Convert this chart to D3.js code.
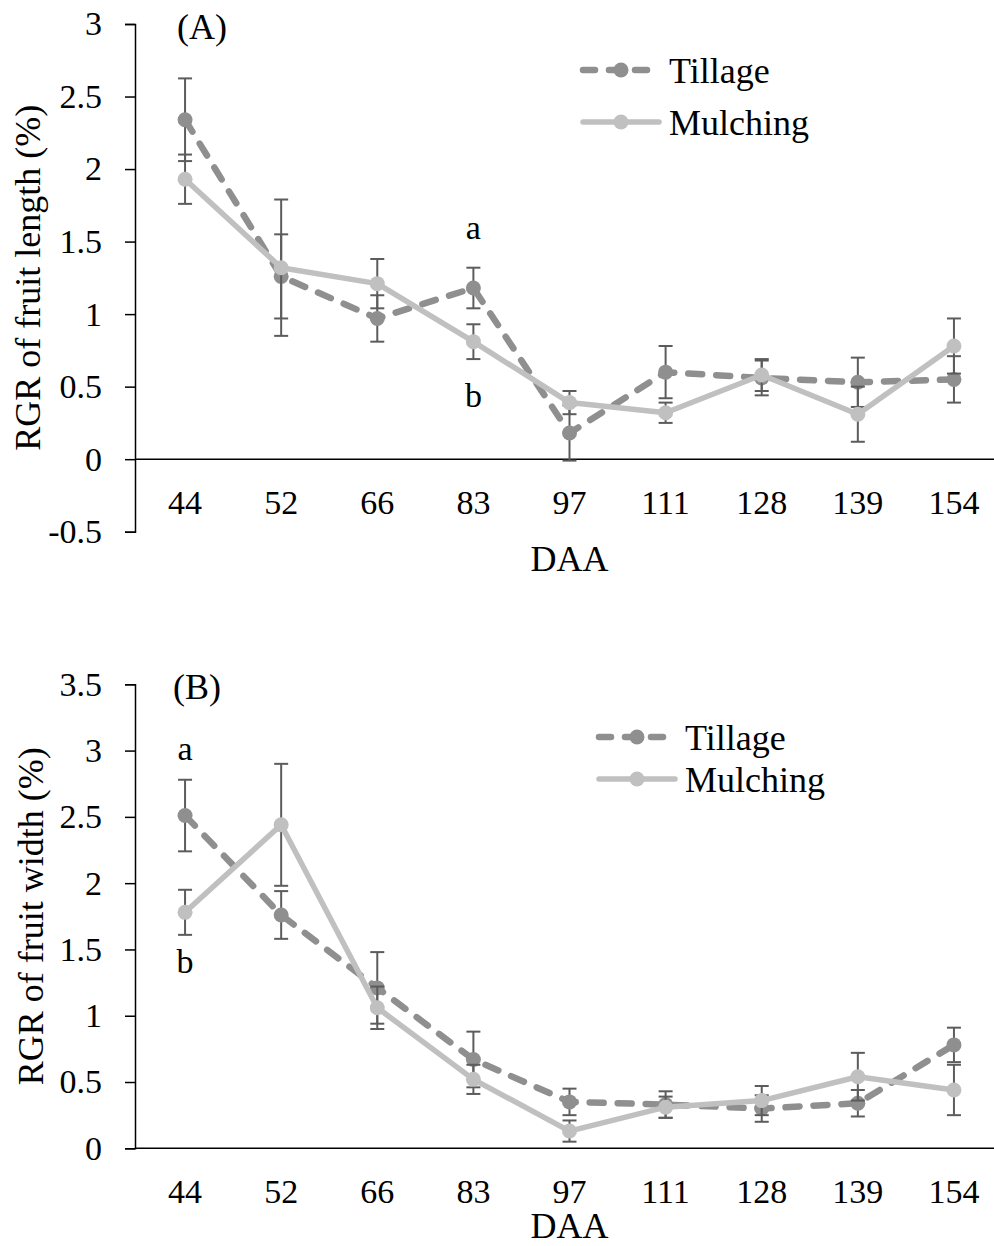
<!DOCTYPE html>
<html>
<head>
<meta charset="utf-8">
<script src="https://cdn.jsdelivr.net/npm/d3@7"></script>
<style>
  body { margin: 0; background: #fff; }
  svg text { font-family: "Liberation Serif", "Times New Roman", serif; fill: #000; }
</style>
</head>
<body>
<div id="chart"></div>
<script>
// days after anthesis
const days = ["44", "52", "66", "83", "97", "111", "128", "139", "154"];

// (A) RGR of fruit length
const tillageLength = [2.34, 1.26, 0.97, 1.18, 0.18, 0.60, 0.56, 0.53, 0.55];
const tillageLengthErr = [0.285, 0.29, 0.16, 0.14, 0.19, 0.18, 0.12, 0.17, 0.16];
const mulchingLength = [1.93, 1.32, 1.21, 0.81, 0.39, 0.32, 0.58, 0.31, 0.78];
const mulchingLengthErr = [0.17, 0.47, 0.17, 0.12, 0.08, 0.07, 0.11, 0.19, 0.19];
const lengthTicks = [-0.5, 0, 0.5, 1, 1.5, 2, 2.5, 3];

// (B) RGR of fruit width
const tillageWidth = [2.51, 1.76, 1.21, 0.67, 0.35, 0.33, 0.30, 0.34, 0.78];
const tillageWidthErr = [0.27, 0.18, 0.27, 0.21, 0.10, 0.10, 0.10, 0.10, 0.13];
const mulchingWidth = [1.78, 2.44, 1.06, 0.52, 0.13, 0.31, 0.36, 0.54, 0.44];
const mulchingWidthErr = [0.17, 0.46, 0.16, 0.11, 0.08, 0.08, 0.11, 0.18, 0.19];
const widthTicks = [0, 0.5, 1, 1.5, 2, 2.5, 3, 3.5];

const seriesNames = ["Tillage", "Mulching"];

const W = 994, H = 1246;
const axisX = 135;
const serif = "'Liberation Serif', 'Times New Roman', serif";
const tillageColor = "#8f8f8f";
const mulchingColor = "#c0c0c0";
const errColor = "#5c5c5c";

const svg = d3.select("#chart").append("svg")
  .attr("width", W)
  .attr("height", H)
  .attr("font-family", serif);

const x = d3.scalePoint()
  .domain(days)
  .range([137, 1002])
  .padding(0.5);

function drawPanel(opt) {
  const g = svg.append("g");

  const y = d3.scaleLinear()
    .domain([opt.ticks[0], opt.ticks[opt.ticks.length - 1]])
    .range([opt.bottom, opt.top]);

  // y axis
  const yAxis = g.append("g")
    .attr("transform", "translate(" + axisX + ",0)")
    .call(d3.axisLeft(y).tickValues(opt.ticks).tickSize(10).tickPadding(23)
      .tickFormat(d => String(d)));
  yAxis.attr("font-family", serif).attr("font-size", 34);
  yAxis.select(".domain").attr("stroke", "#000").attr("stroke-width", 1.5);
  yAxis.selectAll(".tick line").attr("stroke", "#000").attr("stroke-width", 1.5);
  yAxis.selectAll("text").attr("font-size", 34).attr("font-family", serif);

  // x axis line at zero
  g.append("line")
    .attr("x1", axisX).attr("x2", W)
    .attr("y1", y(0)).attr("y2", y(0))
    .attr("stroke", "#000").attr("stroke-width", 1.5);

  // x tick labels
  g.append("g").selectAll("text")
    .data(days)
    .enter()
    .append("text")
    .attr("x", d => x(d))
    .attr("y", y(0) + 55)
    .attr("text-anchor", "middle")
    .attr("font-family", serif)
    .attr("font-size", 34)
    .text(d => d);

  // x title
  g.append("text")
    .attr("x", x("97"))
    .attr("y", opt.daaY)
    .attr("text-anchor", "middle")
    .attr("font-family", serif)
    .attr("font-size", 36)
    .text("DAA");

  // y title
  g.append("text")
    .attr("transform", "translate(" + opt.titleX + "," + ((opt.top + opt.bottom) / 2) + ") rotate(-90)")
    .attr("text-anchor", "middle")
    .attr("font-family", serif)
    .attr("font-size", 36)
    .text(opt.yTitle);

  // panel label
  g.append("text")
    .attr("x", opt.labelX)
    .attr("y", opt.labelY)
    .attr("text-anchor", "middle")
    .attr("font-family", serif)
    .attr("font-size", 36)
    .text(opt.label);

  const series = [
    { vals: opt.tillage, err: opt.tillageErr, color: tillageColor, dash: "14,14", width: 6.5 },
    { vals: opt.mulching, err: opt.mulchingErr, color: mulchingColor, dash: null, width: 5.5 }
  ];

  series.forEach(s => {
    const pts = days.map((d, i) => ({ d: d, v: s.vals[i], e: s.err[i] }));

    const eb = g.append("g");
    eb.selectAll("line.bar")
      .data(pts).enter().append("line")
      .attr("x1", p => x(p.d)).attr("x2", p => x(p.d))
      .attr("y1", p => y(p.v - p.e)).attr("y2", p => y(p.v + p.e))
      .attr("stroke", errColor).attr("stroke-width", 2);
    [-1, 1].forEach(sign => {
      eb.selectAll(null)
        .data(pts).enter().append("line")
        .attr("x1", p => x(p.d) - 7).attr("x2", p => x(p.d) + 7)
        .attr("y1", p => y(p.v + sign * p.e)).attr("y2", p => y(p.v + sign * p.e))
        .attr("stroke", errColor).attr("stroke-width", 2);
    });

    g.append("path")
      .datum(pts)
      .attr("fill", "none")
      .attr("stroke", s.color)
      .attr("stroke-width", s.width)
      .attr("stroke-linecap", "round")
      .attr("stroke-linejoin", "round")
      .attr("stroke-dasharray", s.dash)
      .attr("d", d3.line().x(p => x(p.d)).y(p => y(p.v)));

    g.append("g").selectAll("circle")
      .data(pts).enter().append("circle")
      .attr("cx", p => x(p.d))
      .attr("cy", p => y(p.v))
      .attr("r", 7.5)
      .attr("fill", s.color);
  });

  // significance letters
  opt.letters.forEach(l => {
    g.append("text")
      .attr("x", x(l.day))
      .attr("y", y(l.v))
      .attr("text-anchor", "middle")
      .attr("font-family", serif)
      .attr("font-size", 34)
      .text(l.t);
  });

  // legend
  const lg = g.append("g").attr("transform", "translate(" + opt.legendX + "," + opt.legendY + ")");
  seriesNames.forEach((name, i) => {
    const s = series[i];
    const row = lg.append("g").attr("transform", "translate(0," + (i * opt.legendGap) + ")");
    row.append("line")
      .attr("x1", 3).attr("x2", 79)
      .attr("stroke", s.color)
      .attr("stroke-width", s.width)
      .attr("stroke-linecap", "round")
      .attr("stroke-dasharray", i === 0 ? "12,14" : null);
    row.append("circle").attr("cx", 41).attr("r", 7.5).attr("fill", s.color);
    row.append("text")
      .attr("x", 89)
      .attr("y", 13)
      .attr("font-family", serif)
      .attr("font-size", 36)
      .text(name);
  });
}

drawPanel({
  top: 24, bottom: 531.7, ticks: lengthTicks,
  tillage: tillageLength, tillageErr: tillageLengthErr,
  mulching: mulchingLength, mulchingErr: mulchingLengthErr,
  yTitle: "RGR of fruit length (%)", titleX: 40,
  label: "(A)", labelX: 202, labelY: 39,
  daaY: 571,
  letters: [{ day: "83", v: 1.52, t: "a" }, { day: "83", v: 0.36, t: "b" }],
  legendX: 580, legendY: 70, legendGap: 52
});

drawPanel({
  top: 684.3, bottom: 1148.3, ticks: widthTicks,
  tillage: tillageWidth, tillageErr: tillageWidthErr,
  mulching: mulchingWidth, mulchingErr: mulchingWidthErr,
  yTitle: "RGR of fruit width (%)", titleX: 43,
  label: "(B)", labelX: 197, labelY: 699,
  daaY: 1238,
  letters: [{ day: "44", v: 2.93, t: "a" }, { day: "44", v: 1.32, t: "b" }],
  legendX: 596, legendY: 737, legendGap: 42
});
</script>
</body>
</html>
